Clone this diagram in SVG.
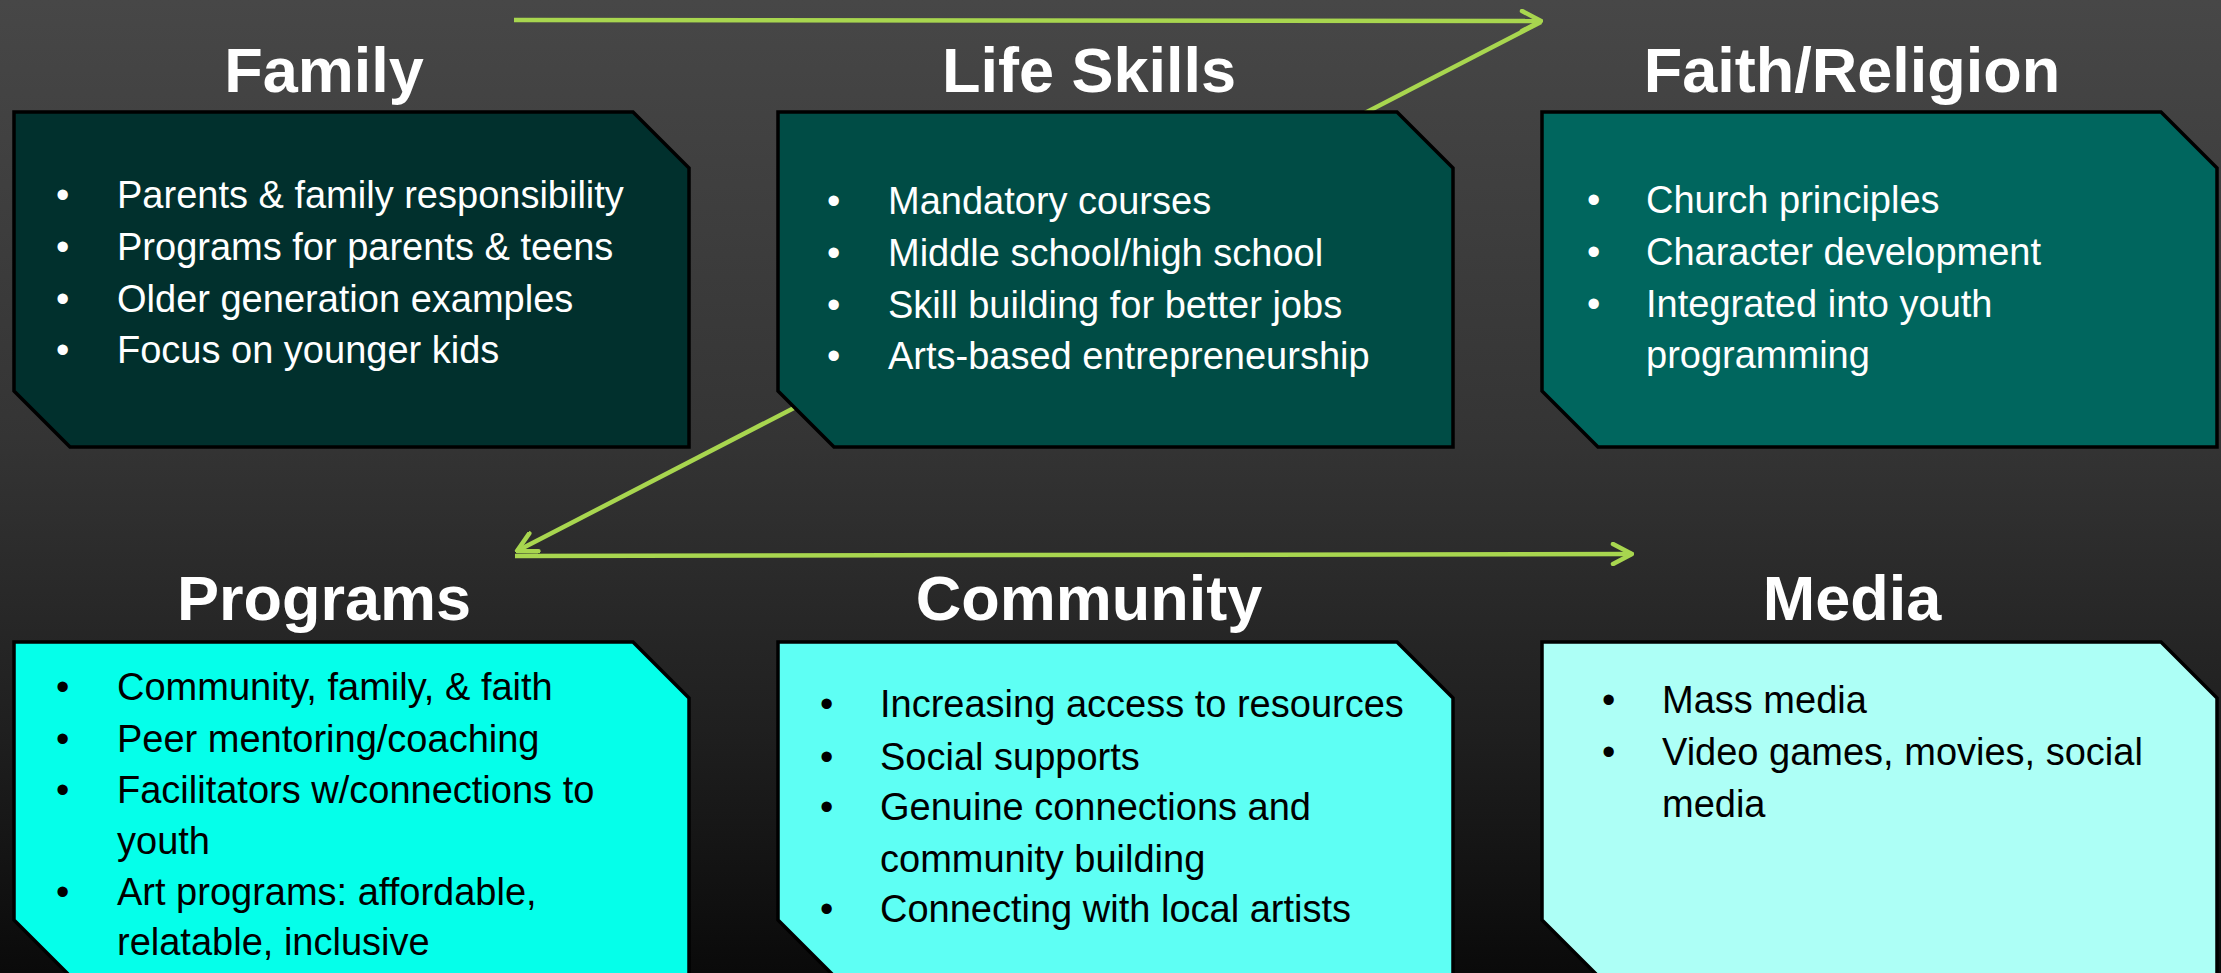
<svg xmlns="http://www.w3.org/2000/svg" width="2221" height="973" viewBox="0 0 2221 973">
<defs>
<linearGradient id="bg" x1="0" y1="0" x2="0" y2="1">
<stop offset="0" stop-color="#474747"/>
<stop offset="0.45" stop-color="#343434"/>
<stop offset="0.75" stop-color="#1f1f1f"/>
<stop offset="1" stop-color="#0a0a0a"/>
</linearGradient>
<marker id="arr" viewBox="0 0 24 24" refX="22" refY="12" markerWidth="24" markerHeight="24" markerUnits="userSpaceOnUse" orient="auto">
<path d="M3,2 L22,12 L3,22" fill="none" stroke="#a8d64f" stroke-width="4.5" stroke-linecap="round" stroke-linejoin="round"/>
</marker>
<style>
.box{stroke:#000;stroke-width:3.5;stroke-linejoin:miter}
.title{font-family:"Liberation Sans",Arial,sans-serif;font-weight:bold;font-size:63px;fill:#fff;text-anchor:middle}
.body{font-family:"Liberation Sans",Arial,sans-serif;font-size:38px}
.light{fill:#fff}
.dark{fill:#000}
.conn{stroke:#a8d64f;stroke-width:4.5;fill:none;marker-end:url(#arr)}
</style>
</defs>
<rect x="0" y="0" width="2221" height="973" fill="url(#bg)"/>
<g id="connectors">
<line class="conn" x1="514" y1="20" x2="1541" y2="21"/>
<line class="conn" x1="1541" y1="22" x2="517" y2="551"/>
<line class="conn" x1="515" y1="556" x2="1632" y2="554"/>
</g>
<g id="family">
<text class="title" x="324" y="92">Family</text>
<polygon class="box" fill="#01302d" points="14,112 633,112 689,168 689,447 70,447 14,391"/>
<g class="body light">
<text x="56" y="208">•</text><text x="117" y="208">Parents &amp; family responsibility</text>
<text x="56" y="260">•</text><text x="117" y="260">Programs for parents &amp; teens</text>
<text x="56" y="312">•</text><text x="117" y="312">Older generation examples</text>
<text x="56" y="363">•</text><text x="117" y="363">Focus on younger kids</text>
</g>
</g>
<g id="life-skills">
<text class="title" x="1089" y="92">Life Skills</text>
<polygon class="box" fill="#004c45" points="778,112 1397,112 1453,168 1453,447 834,447 778,391"/>
<g class="body light">
<text x="827" y="214">•</text><text x="888" y="214">Mandatory courses</text>
<text x="827" y="266">•</text><text x="888" y="266">Middle school/high school</text>
<text x="827" y="318">•</text><text x="888" y="318">Skill building for better jobs</text>
<text x="827" y="369">•</text><text x="888" y="369">Arts-based entrepreneurship</text>
</g>
</g>
<g id="faith-religion">
<text class="title" x="1852" y="92">Faith/Religion</text>
<polygon class="box" fill="#00665e" points="1542,112 2161,112 2217,168 2217,447 1598,447 1542,391"/>
<g class="body light">
<text x="1587" y="213">•</text><text x="1646" y="213">Church principles</text>
<text x="1587" y="265">•</text><text x="1646" y="265">Character development</text>
<text x="1587" y="317">•</text><text x="1646" y="317">Integrated into youth</text>
<text x="1646" y="368">programming</text>
</g>
</g>
<g id="programs">
<text class="title" x="324" y="620">Programs</text>
<polygon class="box" fill="#05ffea" points="14,642 633,642 689,698 689,976 70,976 14,920"/>
<g class="body dark">
<text x="56" y="700">•</text><text x="117" y="700">Community, family, &amp; faith</text>
<text x="56" y="752">•</text><text x="117" y="752">Peer mentoring/coaching</text>
<text x="56" y="803">•</text><text x="117" y="803">Facilitators w/connections to</text>
<text x="117" y="854">youth</text>
<text x="56" y="905">•</text><text x="117" y="905">Art programs: affordable,</text>
<text x="117" y="955">relatable, inclusive</text>
</g>
</g>
<g id="community">
<text class="title" x="1089" y="620">Community</text>
<polygon class="box" fill="#5efff4" points="778,642 1397,642 1453,698 1453,976 834,976 778,920"/>
<g class="body dark">
<text x="820" y="717">•</text><text x="880" y="717">Increasing access to resources</text>
<text x="820" y="770">•</text><text x="880" y="770">Social supports</text>
<text x="820" y="820">•</text><text x="880" y="820">Genuine connections and</text>
<text x="880" y="872">community building</text>
<text x="820" y="922">•</text><text x="880" y="922">Connecting with local artists</text>
</g>
</g>
<g id="media">
<text class="title" x="1852" y="620">Media</text>
<polygon class="box" fill="#adfff6" points="1542,642 2161,642 2217,698 2217,976 1598,976 1542,920"/>
<g class="body dark">
<text x="1602" y="713">•</text><text x="1662" y="713">Mass media</text>
<text x="1602" y="765">•</text><text x="1662" y="765">Video games, movies, social</text>
<text x="1662" y="817">media</text>
</g>
</g>
</svg>
